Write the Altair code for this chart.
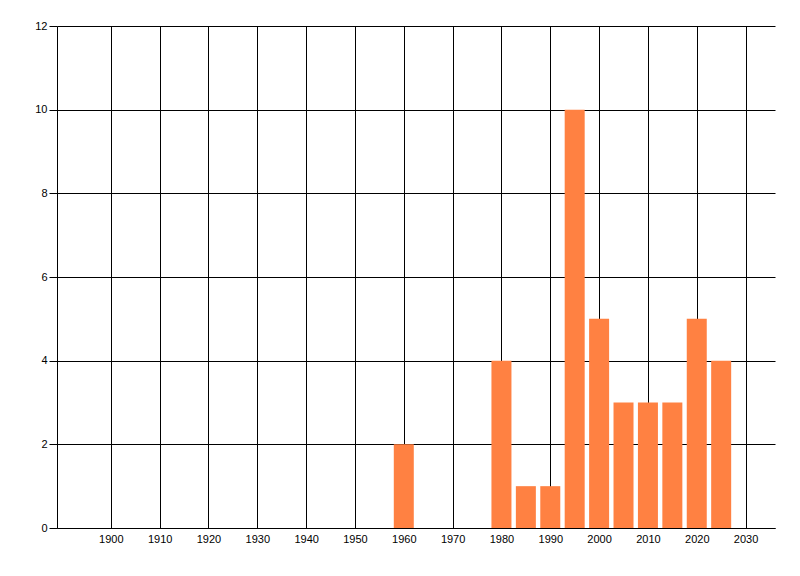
import pandas as pd
import altair as alt

YEARS = [1960, 1980, 1985, 1990, 1995, 2000, 2005, 2010, 2015, 2020, 2025]
COUNTS = [2, 4, 1, 1, 10, 5, 3, 3, 3, 5, 4]
X_TICKS = list(range(1900, 2031, 10))
Y_TICKS = [0, 2, 4, 6, 8, 10, 12]

BAR_COLOR = "#FF8142"
FONT = "Liberation Sans"

df = pd.DataFrame({"year": YEARS, "count": COUNTS})

chart = (
    alt.Chart(df)
    .mark_bar(color=BAR_COLOR, size=20)
    .encode(
        x=alt.X(
            "year:Q",
            title=None,
            scale=alt.Scale(domain=[1890, 2035], nice=False, zero=False),
            axis=alt.Axis(
                values=X_TICKS,
                format="d",
                grid=True,
                gridColor="black",
                gridOpacity=1,
                gridWidth=1,
                domainColor="black",
                domainWidth=1,
                ticks=False,
                labelPadding=5,
                labelColor="black",
                labelFont=FONT,
                labelFontSize=11,
            ),
        ),
        y=alt.Y(
            "count:Q",
            title=None,
            scale=alt.Scale(domain=[0, 12], nice=False),
            axis=alt.Axis(
                values=Y_TICKS,
                grid=True,
                gridColor="black",
                gridOpacity=1,
                gridWidth=1,
                domainColor="black",
                domainWidth=1,
                tickColor="black",
                tickSize=8,
                labelPadding=2,
                labelColor="black",
                labelFont=FONT,
                labelFontSize=11,
            ),
        ),
    )
    .properties(
        width=718,
        height=502,
        autosize="none",
        padding={"left": 49, "top": 18, "right": 10, "bottom": 30},
    )
    .configure_view(stroke=None)
)

chart.save("out.html", embed_options={"renderer": "svg", "actions": False})
